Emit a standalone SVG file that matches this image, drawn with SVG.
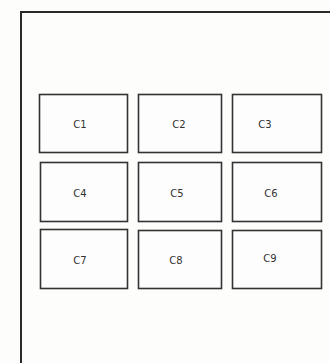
<svg xmlns="http://www.w3.org/2000/svg" width="330" height="363" viewBox="0 0 330 363">
<style>
.frame{fill:none;stroke:#2a2a2a;stroke-width:2}
.box{fill:#fdfdfd;stroke:#333;stroke-width:1.6}
.lbl{font-family:"DejaVu Sans",sans-serif;font-size:10px;fill:#333;text-anchor:middle;dominant-baseline:central}
</style>
<rect width="330" height="363" fill="#fdfdfb"/>
<g id="frame"><path class="frame" d="M21,366 L21,12 L332,12"/></g>
<g id="c1"><rect class="box" x="39.5" y="94.5" width="88" height="58"/><text class="lbl" x="80" y="124">C1</text></g>
<g id="c2"><rect class="box" x="138.5" y="94.5" width="83" height="58"/><text class="lbl" x="179" y="124">C2</text></g>
<g id="c3"><rect class="box" x="232.5" y="94.5" width="89" height="58"/><text class="lbl" x="265" y="124">C3</text></g>
<g id="c4"><rect class="box" x="40.5" y="162.5" width="87" height="59"/><text class="lbl" x="80" y="193">C4</text></g>
<g id="c5"><rect class="box" x="138.5" y="162.5" width="83" height="59"/><text class="lbl" x="177" y="193">C5</text></g>
<g id="c6"><rect class="box" x="232.5" y="162.5" width="89" height="59"/><text class="lbl" x="271" y="193">C6</text></g>
<g id="c7"><rect class="box" x="40.5" y="229.5" width="87" height="59"/><text class="lbl" x="80" y="260">C7</text></g>
<g id="c8"><rect class="box" x="138.5" y="230.5" width="83" height="58"/><text class="lbl" x="176" y="260">C8</text></g>
<g id="c9"><rect class="box" x="232.5" y="230.5" width="89" height="58"/><text class="lbl" x="270" y="258">C9</text></g>
<g id="connectors"></g>
</svg>
